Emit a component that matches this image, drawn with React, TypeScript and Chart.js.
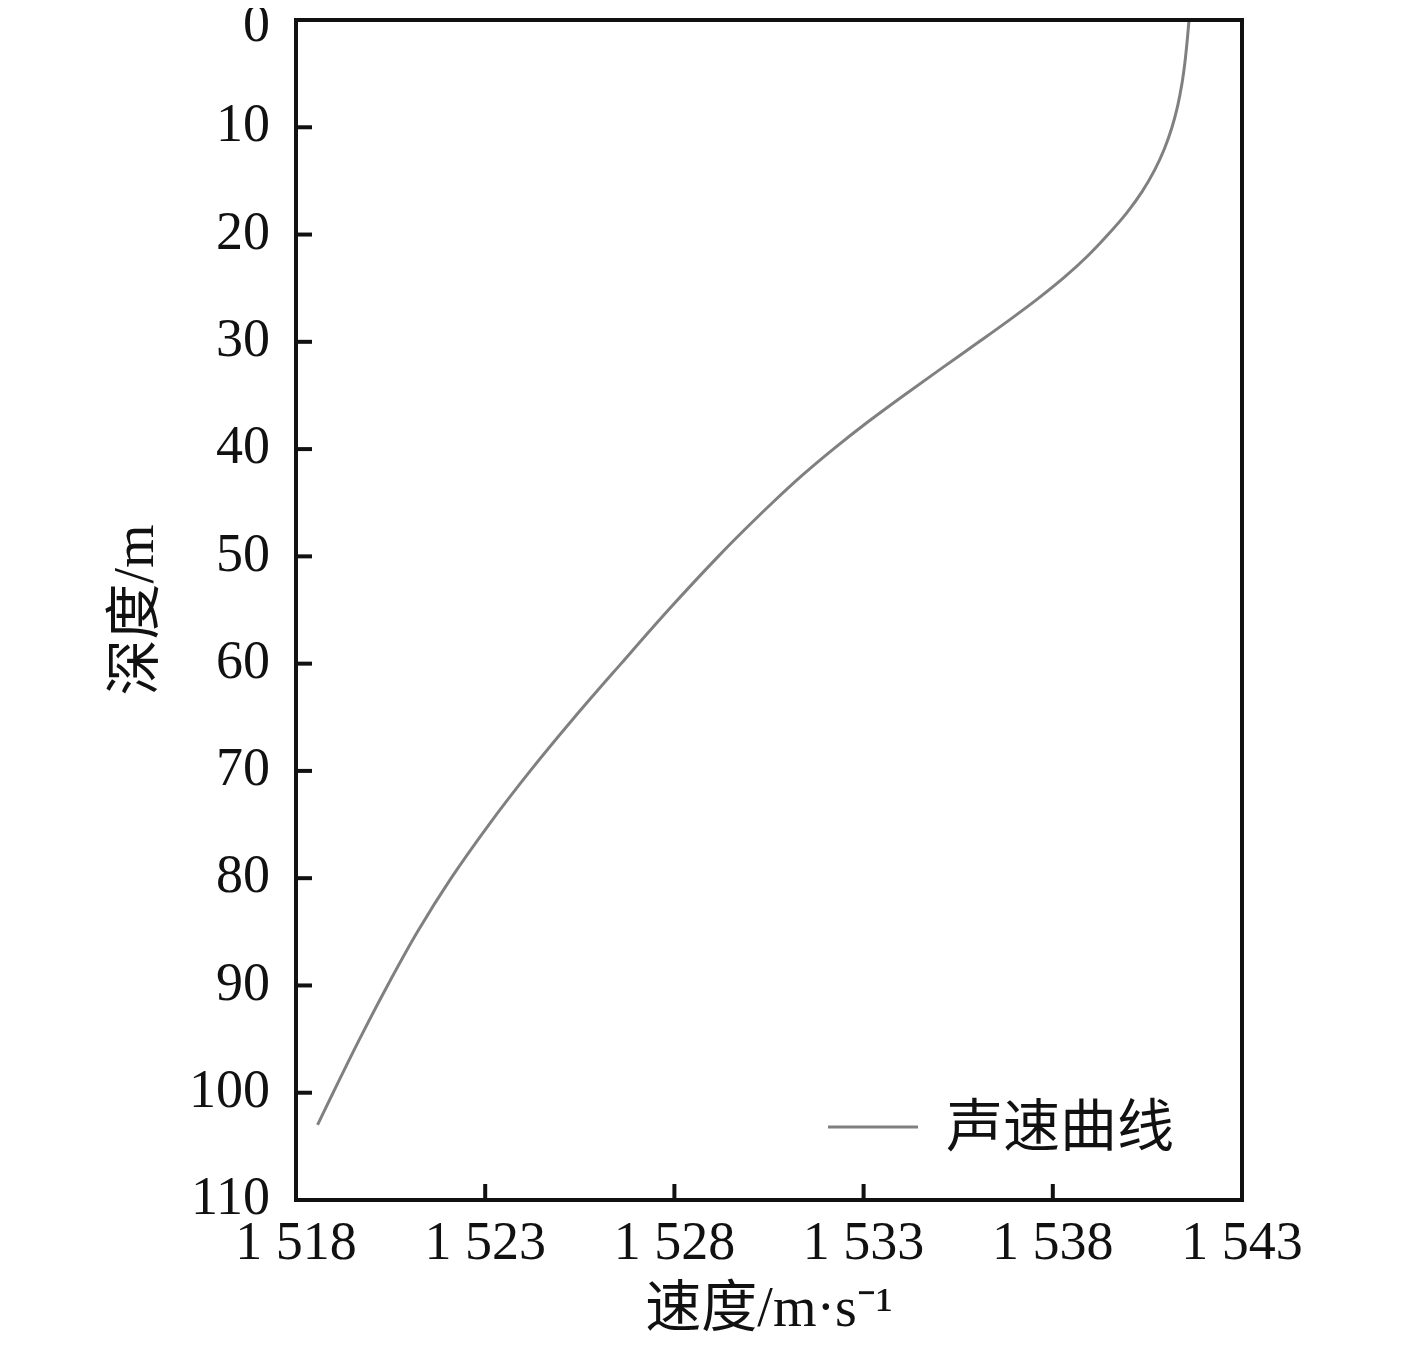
import React, { useEffect, useRef } from "react";
import { Chart, registerables } from "chart.js";

Chart.register(...registerables);

const depths = [
  0, 2, 4, 6, 8, 10, 12, 14, 16, 18, 20, 22, 24, 26, 28, 30, 32.5, 35, 37.5, 40, 42.5, 45, 47.5, 50,
  55, 60, 65, 70, 75, 80, 85, 90, 95, 100, 103,
];
const speeds = [
  1541.6, 1541.55, 1541.49, 1541.41, 1541.3, 1541.15, 1540.95, 1540.69, 1540.36, 1539.95, 1539.46,
  1538.92, 1538.3, 1537.6, 1536.84, 1536.05, 1535.05, 1534.06, 1533.1, 1532.2, 1531.36, 1530.59,
  1529.86, 1529.16, 1527.84, 1526.59, 1525.36, 1524.19, 1523.1, 1522.1, 1521.21, 1520.42, 1519.68,
  1518.98, 1518.57,
];
const xTickValues = [1518, 1523, 1528, 1533, 1538, 1543];
const xTickLabels = ["1 518", "1 523", "1 528", "1 533", "1 538", "1 543"];
const seriesLabel = "声速曲线";
const xTitle = "速度/m·s⁻¹";
const yTitle = "深度/m";

const SERIF = '"Liberation Serif", "Noto Sans CJK SC", serif';
const CJK = '"Liberation Serif", "Noto Sans CJK SC", serif';

const frame = {
  id: "frame",
  afterDraw(chart: any) {
    const { ctx, chartArea } = chart;
    const xs = chart.scales.x;
    const ys = chart.scales.y;
    ctx.save();
    ctx.strokeStyle = "#111";
    ctx.lineWidth = 4;
    ctx.lineCap = "butt";
    xs.ticks.forEach((t: any) => {
      const px = xs.getPixelForValue(t.value);
      ctx.beginPath();
      ctx.moveTo(px, chartArea.bottom);
      ctx.lineTo(px, chartArea.bottom - 16);
      ctx.stroke();
    });
    ys.ticks.forEach((t: any) => {
      const py = ys.getPixelForValue(t.value);
      ctx.beginPath();
      ctx.moveTo(chartArea.left, py);
      ctx.lineTo(chartArea.left + 16, py);
      ctx.stroke();
    });
    ctx.lineJoin = "miter";
    ctx.strokeRect(chartArea.left, chartArea.top, chartArea.right - chartArea.left, chartArea.bottom - chartArea.top);
    // legend
    const ds = chart.data.datasets[0];
    const ly = chartArea.bottom - 73;
    const lx = chartArea.left + 532;
    ctx.strokeStyle = ds.borderColor;
    ctx.lineWidth = 3;
    ctx.beginPath();
    ctx.moveTo(lx, ly);
    ctx.lineTo(lx + 90, ly);
    ctx.stroke();
    ctx.fillStyle = "#111";
    ctx.font = `57px ${CJK}`;
    ctx.textBaseline = "middle";
    ctx.textAlign = "left";
    ctx.fillText(ds.label, lx + 118, ly + 4);
    ctx.restore();
  },
};

export default function App() {
  const ref = useRef<HTMLCanvasElement>(null);
  useEffect(() => {
    if (!ref.current) return;
    const chart = new Chart(ref.current, {
      type: "line",
      data: {
        datasets: [
          {
            label: seriesLabel,
            data: depths.map((d, i) => ({ x: speeds[i], y: d })),
            borderColor: "#808080",
            borderWidth: 3,
            pointRadius: 0,
            cubicInterpolationMode: "monotone",
            fill: false,
          } as any,
        ],
      },
      options: {
        indexAxis: "y",
        responsive: false,
        animation: false,
        layout: { padding: { top: 20, right: 175, left: 0, bottom: 0 } },
        plugins: { legend: { display: false }, tooltip: { enabled: false } },
        scales: {
          x: {
            type: "linear",
            position: "bottom",
            min: 1518,
            max: 1543,
            afterBuildTicks: (s: any) => {
              s.ticks = xTickValues.map((v) => ({ value: v }));
            },
            ticks: {
              padding: 12,
              color: "#111",
              font: { family: SERIF, size: 54 },
              maxRotation: 0,
              autoSkip: false,
              callback: (v: any) => {
                const i = xTickValues.indexOf(Number(v));
                return i >= 0 ? xTickLabels[i] : "";
              },
            },
            grid: { display: false, drawTicks: false },
            border: { display: false },
            title: {
              display: true,
              text: xTitle,
              color: "#111",
              font: { family: CJK, size: 56 },
              padding: { top: 0, bottom: 0 },
            },
            afterFit: (s: any) => {
              s.height = 145;
              s.paddingLeft = 0;
              s.paddingRight = 0;
            },
          },
          y: {
            type: "linear",
            position: "left",
            reverse: true,
            min: 0,
            max: 110,
            ticks: {
              stepSize: 10,
              padding: 26,
              color: "#111",
              font: (c: any) =>
                c.tick && c.tick.value === 0
                  ? { family: SERIF, size: 54, lineHeight: "14px" }
                  : { family: SERIF, size: 54 },
              autoSkip: false,
              callback: (v: any) => (Number(v) === 0 ? ["", "0"] : String(v)),
            },
            grid: { display: false, drawTicks: false },
            border: { display: false },
            title: {
              display: true,
              text: yTitle,
              color: "#111",
              font: { family: CJK, size: 56 },
              padding: { top: 105, bottom: 0 },
            },
            afterFit: (s: any) => {
              s.width = 296;
              s.paddingTop = 0;
              s.paddingBottom = 0;
            },
          },
        },
      },
      plugins: [frame],
    });
    return () => chart.destroy();
  }, []);
  return (
    <div style={{ width: 1417, height: 1345, marginTop: -8, marginLeft: -8 }}>
      <canvas ref={ref} width={1417} height={1345} style={{ display: "block" }} />
    </div>
  );
}
